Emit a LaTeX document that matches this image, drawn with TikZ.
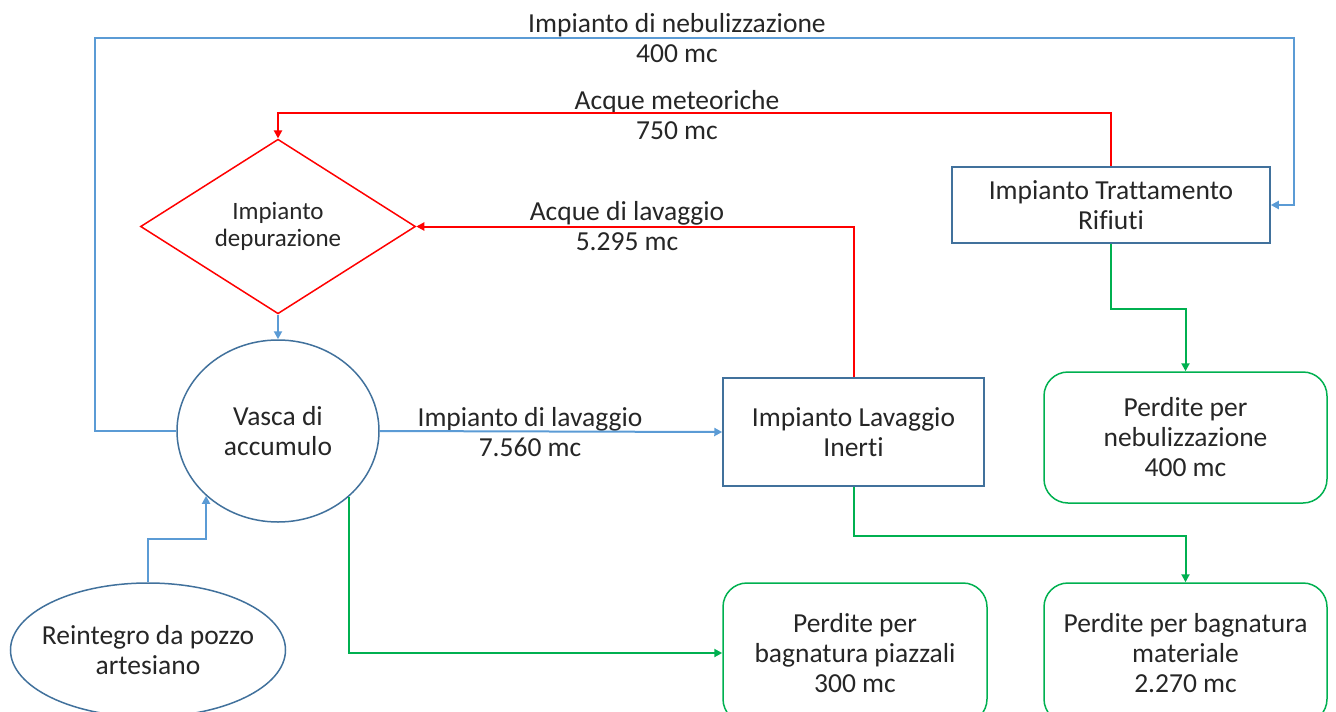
\documentclass[tikz,border=0pt]{standalone}
\usepackage{fontspec}
\setmainfont{Carlito}[Ligatures={NoCommon}]
\usetikzlibrary{shapes.geometric,arrows.meta}
\definecolor{lblue}{RGB}{91,155,213}
\definecolor{dblue}{RGB}{65,113,156}
\definecolor{lred}{RGB}{255,0,0}
\definecolor{lgreen}{RGB}{0,176,80}
\definecolor{txt}{RGB}{38,38,38}
\tikzset{
  every node/.style={text=txt, font=\fontsize{27.5}{30}\selectfont},
  boxnode/.style={draw=dblue, line width=1.5pt, rectangle, inner sep=0pt, align=center},
  lossbox/.style={draw=lgreen, line width=1.5pt, rectangle, rounded corners=24pt, inner sep=0pt, align=center},
  ellnode/.style={draw=dblue, line width=1.5pt, ellipse, inner sep=0pt, align=center},
  depnode/.style={draw=lred, line width=1.5pt, diamond, inner sep=0pt, align=center, font=\fontsize{25}{27}\selectfont},
  lbl/.style={align=center, inner sep=0pt},
  bflow/.style={draw=lblue, line width=2pt, -{Triangle[length=8pt,width=8pt]}},
  rflow/.style={draw=lred, line width=2pt, -{Triangle[length=8pt,width=8pt]}},
  gflow/.style={draw=lgreen, line width=2pt, -{Triangle[length=8pt,width=8pt]}},
}
\begin{document}
\begin{tikzpicture}[x=1pt,y=-1pt]
\useasboundingbox (0,0) rectangle (1336,712);
\begin{scope}
\clip (0,0) rectangle (1336,712);
% nodes
\node[depnode, minimum width=275pt, minimum height=171pt] (dep) at (278,226.5) {Impianto\\depurazione};
\node[ellnode, minimum width=202pt, minimum height=182pt] (vasca) at (278,431) {Vasca di\\accumulo};
\node[ellnode, minimum width=275pt, minimum height=134pt] (rein) at (148,650) {\makebox[150pt]{Reintegro da pozzo}\\\makebox[150pt]{artesiano}};
\node[boxnode, minimum width=261pt, minimum height=108pt] (lav) at (853.5,432) {Impianto Lavaggio\\Inerti};
\node[boxnode, minimum width=318pt, minimum height=76pt] (trat) at (1111,205) {Impianto Trattamento\\Rifiuti};
\node[lossbox, minimum width=283pt, minimum height=131pt] (neb) at (1185.5,437.5) {Perdite per\\nebulizzazione\\400 mc};
\node[lossbox, minimum width=264pt, minimum height=140pt] (piaz) at (855,653) {Perdite per\\bagnatura piazzali\\300 mc};
\node[lossbox, minimum width=283pt, minimum height=140pt] (mat) at (1185.5,653) {Perdite per bagnatura\\materiale\\2.270 mc};
% labels
\node[lbl] (lneb) at (677,38) {Impianto di nebulizzazione\\400 mc};
\node[lbl] (lmet) at (677,115) {Acque meteoriche\\750 mc};
\node[lbl] (lacq) at (627,226) {Acque di lavaggio\\5.295 mc};
\node[lbl] (limp) at (530,432) {Impianto di lavaggio\\7.560 mc};
% connectors
\coordinate (c1) at (95,38);
\coordinate (c2) at (1294,38);
\draw[bflow] (vasca.west) -| (c1) -- (c2) |- (trat.east);
\draw[rflow] (trat.north) -- ++(0,-53) -| (dep.north);
\draw[rflow] (lav.north) |- (dep.east);
\draw[bflow] (dep.south) -- (vasca.north);
\draw[bflow] (vasca.east) -- (lav.west);
\draw[gflow] (trat.south) -- ++(0,65) -| (neb.north);
\draw[gflow] (lav.south) -- ++(0,49) -| (mat.north);
\draw[gflow] (vasca.-43) |- (piaz.west);
\draw[bflow] (rein.north) -- ++(0,-43) -| (vasca.south west);
\end{scope}
\end{tikzpicture}
\end{document}
